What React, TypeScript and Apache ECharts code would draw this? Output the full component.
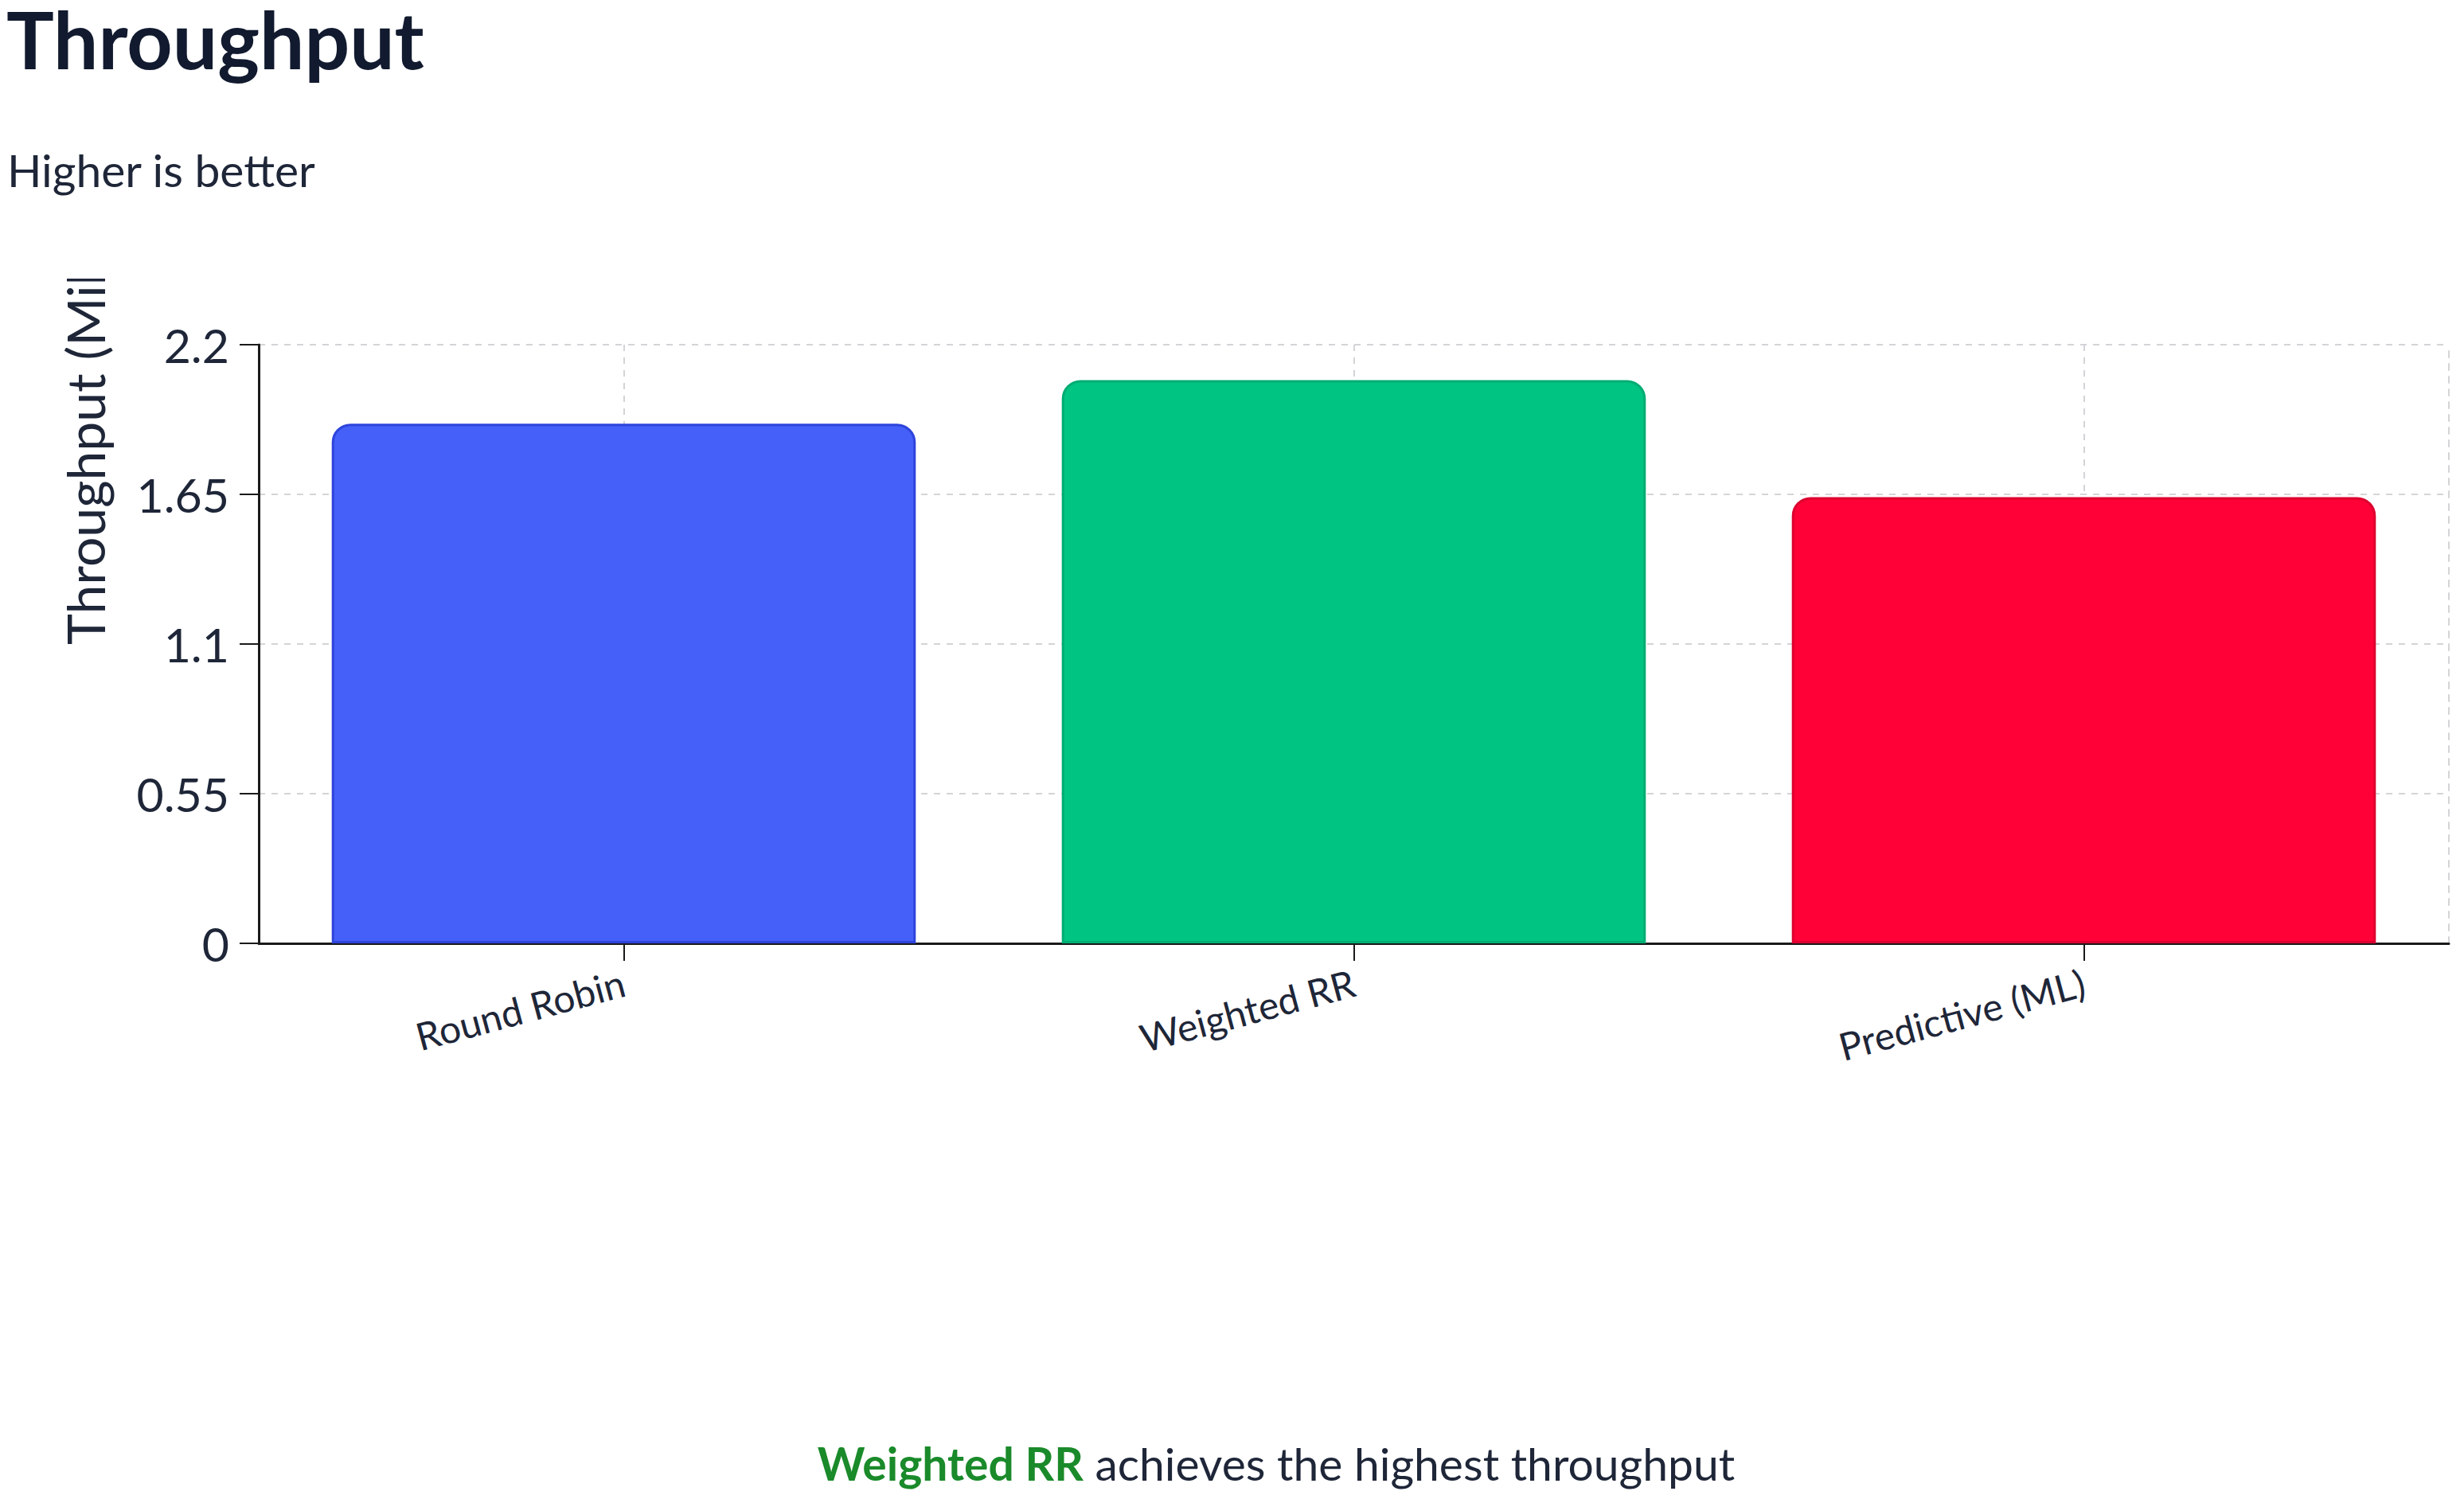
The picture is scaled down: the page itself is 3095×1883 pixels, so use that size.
import React, { useEffect, useRef } from "react";
import * as echarts from "echarts";

const categories = ["Round Robin", "Weighted RR", "Predictive (ML)"];
const throughputValues = [1.91, 2.07, 1.64];
const barFills = ["#4560f8", "#00c482", "#ff0037"];
const barStrokes = ["#2e44dc", "#00ad72", "#dd002f"];
const yMin = 0;
const yMax = 2.2;
const yStep = 0.55;

const titleText = "Throughput";
const subtitleText = "Higher is better";
const yAxisName = "Throughput (Million req/s)";
const winner = "Weighted RR";
const footRest = " achieves the highest throughput";

const FONT = "Lato, 'Noto Sans', sans-serif";

export default function App() {
  const ref = useRef<HTMLDivElement>(null);

  useEffect(() => {
    if (!ref.current) return;
    const chart = echarts.init(ref.current, undefined, { renderer: "svg" });
    const gridLine = { color: "#d4d4d8", width: 2, type: [8, 8] as number[] };
    chart.setOption({
      animation: false,
      textStyle: { fontFamily: FONT },
      grid: { left: 325, right: 19, top: 83, height: 752, containLabel: false },
      xAxis: {
        type: "category",
        data: categories,
        axisLine: { show: true, lineStyle: { color: "#1a1a1a", width: 3 } },
        axisTick: { show: true, alignWithLabel: true, length: 22, lineStyle: { color: "#1a1a1a", width: 2 } },
        axisLabel: { rotate: 15, margin: 48, fontSize: 48, color: "#1e2638", fontFamily: FONT },
        splitLine: { show: true, alignWithLabel: true, lineStyle: gridLine },
      },
      yAxis: [
        {
          type: "value",
          min: yMin,
          max: yMax,
          interval: yStep,
          axisLine: { show: true, lineStyle: { color: "#1a1a1a", width: 3 } },
          axisTick: { show: true, length: 24, lineStyle: { color: "#1a1a1a", width: 2 } },
          axisLabel: { margin: 37, fontSize: 59, color: "#1e2638", fontFamily: FONT },
          splitLine: { show: true, lineStyle: gridLine },
        },
        {
          type: "value",
          position: "right",
          min: yMin,
          max: yMax,
          interval: yStep,
          axisLine: { show: true, lineStyle: gridLine },
          axisTick: { show: false },
          axisLabel: { show: false },
          splitLine: { show: false },
        },
      ],
      series: [
        {
          type: "bar",
          yAxisIndex: 0,
          barWidth: "80%",
          data: throughputValues.map((v, i) => ({
            value: v,
            itemStyle: {
              color: barFills[i],
              borderColor: barStrokes[i],
              borderWidth: 3,
              borderRadius: [22, 22, 0, 0],
            },
          })),
        },
      ],
      graphic: [
        {
          type: "text",
          x: 106,
          y: 460,
          rotation: Math.PI / 2,
          style: {
            text: yAxisName,
            fill: "#1e2638",
            fontSize: 66,
            fontFamily: FONT,
            align: "left",
            verticalAlign: "middle",
          },
        },
        {
          type: "text",
          x: 1603,
          y: 1488,
          style: {
            text: "{g|" + winner + "}" + footRest,
            fill: "#1e2638",
            fontSize: 57,
            fontFamily: FONT,
            align: "center",
            verticalAlign: "middle",
            rich: {
              g: { fill: "#1a8a2a", fontSize: 57, fontFamily: FONT, fontWeight: "bold" },
            },
          },
        },
      ],
    });
    return () => chart.dispose();
  }, []);

  return (
    <div style={{ position: "absolute", left: 0, top: 0, width: 3095, height: 1883, background: "#fff", overflow: "hidden" }}>
      <div
        style={{
          position: "absolute",
          left: 8,
          top: 0,
          fontFamily: FONT,
          fontWeight: 700,
          fontSize: 100,
          lineHeight: "96px",
          color: "#111a2e",
          whiteSpace: "nowrap",
        }}
      >
        {titleText}
      </div>
      <div
        style={{
          position: "absolute",
          left: 9,
          top: 184,
          fontFamily: FONT,
          fontSize: 57,
          lineHeight: "58px",
          color: "#1e2638",
          whiteSpace: "nowrap",
        }}
      >
        {subtitleText}
      </div>
      <div ref={ref} style={{ position: "absolute", left: 0, top: 350, width: 3095, height: 1533 }} />
    </div>
  );
}
